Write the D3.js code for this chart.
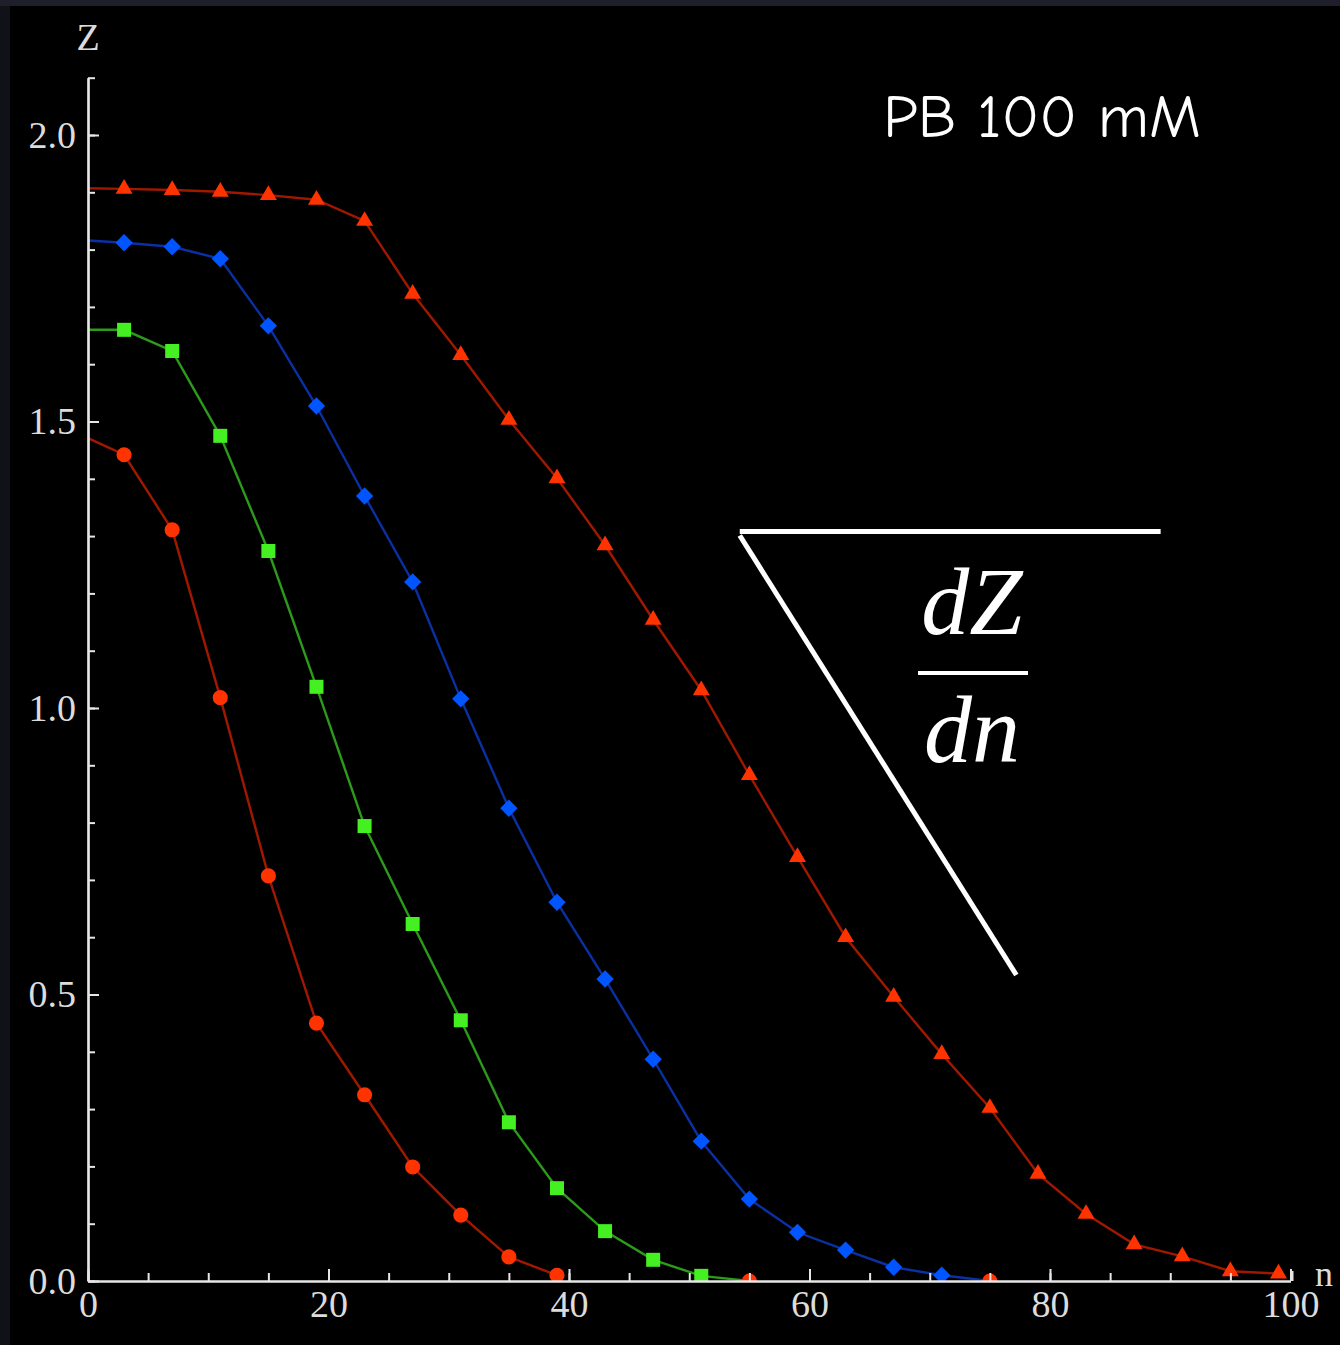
<!DOCTYPE html>
<html>
<head>
<meta charset="utf-8">
<script src="https://cdn.jsdelivr.net/npm/d3@7"></script>
<style>
  html, body { margin: 0; padding: 0; background: #000; }
  svg { display: block; }
</style>
</head>
<body>
<div id="chart"></div>
<script>
// marker positions along n (every 4th point gets a marker)
const nMarks = [3, 7, 11, 15, 19, 23, 27, 31, 35, 39, 43, 47, 51, 55, 59, 63, 67, 71, 75, 79, 83, 87, 91, 95, 99]

// values
const triStart = 1.907
const triZ = [1.906, 1.904, 1.901, 1.895, 1.887, 1.850, 1.723, 1.616, 1.503, 1.401, 1.284, 1.154, 1.031,
  0.883, 0.740, 0.600, 0.496, 0.396, 0.302, 0.187, 0.117, 0.064, 0.043, 0.017, 0.013]

const diaStart = 1.816
const diaZ = [1.812, 1.805, 1.784, 1.667, 1.527, 1.370, 1.220, 1.016, 0.825, 0.661, 0.527, 0.387, 0.244,
  0.143, 0.085, 0.054, 0.024, 0.010]
const diaEnd = [75, 0]

const sqStart = 1.660
const sqZ = [1.660, 1.623, 1.475, 1.274, 1.037, 0.794, 0.623, 0.455, 0.277, 0.162, 0.087, 0.037, 0.009]
const sqEnd = [55, 0]

const circStart = 1.471
const circZ = [1.442, 1.311, 1.018, 0.707, 0.450, 0.325, 0.199, 0.115, 0.042, 0.010]

// stray circles sitting on the axis
const axisCircN = [55, 75]

const xMajor = [0, 20, 40, 60, 80, 100]
const yMajor = [0, 0.5, 1.0, 1.5, 2.0]

const width = 1340
const height = 1345

const x = d3.scaleLinear().domain([0, 100]).range([88, 1290.5])
const y = d3.scaleLinear().domain([0, 2.1]).range([1281, 77.7])

const svg = d3.select('#chart').append('svg')
  .attr('width', width)
  .attr('height', height)

svg.append('rect').attr('width', width).attr('height', height).attr('fill', '#000')
// dark frame at the edges of the screenshot
svg.append('rect').attr('width', 10).attr('height', height).attr('fill', '#101217')
svg.append('rect').attr('width', width).attr('height', 6).attr('fill', '#1e1f2a')

svg.append('clipPath').attr('id', 'plot')
  .append('rect')
  .attr('x', x(0)).attr('y', y(2.1))
  .attr('width', x(100) - x(0) + 10)
  .attr('height', y(0) - y(2.1))

function build (start, vals, end) {
  const pts = [[0, start]].concat(vals.map((v, i) => [nMarks[i], v]))
  if (end) pts.push(end)
  return pts
}

const series = [
  { pts: build(circStart, circZ), marks: circZ.map((v, i) => [nMarks[i], v]), line: '#a01800', fill: '#ff3300', shape: 'circle' },
  { pts: build(sqStart, sqZ, sqEnd), marks: sqZ.map((v, i) => [nMarks[i], v]), line: '#2c9a1a', fill: '#44f022', shape: 'square' },
  { pts: build(diaStart, diaZ, diaEnd), marks: diaZ.map((v, i) => [nMarks[i], v]), line: '#0a30a4', fill: '#0055ff', shape: 'diamond' },
  { pts: build(triStart, triZ), marks: triZ.map((v, i) => [nMarks[i], v]), line: '#a01800', fill: '#ff3300', shape: 'triangle' }
]

const symbols = {
  circle: d3.symbol(d3.symbolCircle, 180)(),
  square: d3.symbol(d3.symbolSquare, 196)(),
  diamond: d3.symbol(d3.symbolSquare, 150)(),
  triangle: d3.symbol(d3.symbolTriangle, 125)()
}

const line = d3.line().x(d => x(d[0])).y(d => y(d[1]))

const plot = svg.append('g').attr('clip-path', 'url(#plot)')

series.forEach(s => {
  plot.append('path')
    .datum(s.pts)
    .attr('d', line)
    .attr('fill', 'none')
    .attr('stroke', s.line)
    .attr('stroke-width', 2.4)
})

plot.selectAll('path.axis-circ')
  .data(axisCircN)
  .enter()
  .append('path')
  .attr('class', 'axis-circ')
  .attr('d', symbols.circle)
  .attr('fill', '#ff3300')
  .attr('transform', d => `translate(${x(d)},${y(0)})`)

series.forEach(s => {
  plot.selectAll(null)
    .data(s.marks)
    .enter()
    .append('path')
    .attr('d', symbols[s.shape])
    .attr('fill', s.fill)
    .attr('transform', d => `translate(${x(d[0])},${y(d[1])})` + (s.shape === 'diamond' ? ' rotate(45)' : ''))
})

// axes
const axisColor = '#e6e6e6'
const labelFont = '"Liberation Serif", "Times New Roman", serif'

const xMinor = svg.append('g')
  .attr('transform', `translate(0,${y(0)})`)
  .call(d3.axisBottom(x).tickValues(d3.range(0, 101, 5)).tickSize(-8).tickSizeOuter(0).tickFormat(''))
const xAxis = svg.append('g')
  .attr('transform', `translate(0,${y(0)})`)
  .call(d3.axisBottom(x).tickValues(xMajor).tickSize(-12).tickSizeOuter(0).tickPadding(9).tickFormat(d3.format('d')))

const yMinor = svg.append('g')
  .attr('transform', `translate(${x(0)},0)`)
  .call(d3.axisLeft(y).tickValues(d3.range(0, 22).map(i => i / 10)).tickSize(-7).tickSizeOuter(0).tickFormat(''))
const yAxis = svg.append('g')
  .attr('transform', `translate(${x(0)},0)`)
  .call(d3.axisLeft(y).tickValues(yMajor).tickSize(-11).tickSizeOuter(0).tickPadding(12).tickFormat(d3.format('.1f')))

;[xMinor, xAxis, yMinor, yAxis].forEach(g => {
  g.selectAll('.domain').attr('stroke', axisColor).attr('stroke-width', 2.2)
  g.selectAll('.tick line').attr('stroke', axisColor).attr('stroke-width', 2)
  g.selectAll('.tick text')
    .attr('fill', '#dcdcdc')
    .style('font-family', labelFont)
    .style('font-size', '38px')
})
// end tick at n = 100
svg.append('line')
  .attr('x1', x(100) + 2).attr('x2', x(100) + 2)
  .attr('y1', y(0)).attr('y2', y(0) - 10)
  .attr('stroke', axisColor).attr('stroke-width', 2)

svg.append('text')
  .attr('x', x(0)).attr('y', 50)
  .attr('text-anchor', 'middle')
  .attr('fill', '#dcdcdc')
  .style('font-family', labelFont)
  .style('font-size', '38px')
  .text('Z')

svg.append('text')
  .attr('x', 1315).attr('y', 1286)
  .attr('fill', '#dcdcdc')
  .style('font-family', labelFont)
  .style('font-size', '36px')
  .text('n')

// PB label
svg.append('text')
  .attr('x', 883).attr('y', 137)
  .attr('fill', '#fff')
  .attr('textLength', 318)
  .attr('lengthAdjust', 'spacingAndGlyphs')
  .style('font-family', '"Comic Sans MS", "Comic Neue", "Noto Sans", sans-serif')
  .style('font-size', '60px')
  .text('PB 100 mM')

// slope triangle, in data units
const slopeTop = 1.308
const slopeLeft = 54.2
const slopeRight = 89.2
const slopeEnd = [77.2, 0.534]

svg.append('line')
  .attr('x1', x(slopeLeft)).attr('x2', x(slopeRight))
  .attr('y1', y(slopeTop)).attr('y2', y(slopeTop))
  .attr('stroke', '#fff').attr('stroke-width', 5)
svg.append('line')
  .attr('x1', x(slopeLeft)).attr('y1', y(slopeTop) + 4)
  .attr('x2', x(slopeEnd[0])).attr('y2', y(slopeEnd[1]))
  .attr('stroke', '#fff').attr('stroke-width', 5)

const frac = svg.append('g').attr('fill', '#fff')
  .style('font-family', '"Liberation Serif", "DejaVu Serif", serif')
  .style('font-style', 'italic')
  .style('font-size', '96px')
frac.append('text').attr('x', 972).attr('y', 634).attr('text-anchor', 'middle').text('dZ')
frac.append('text').attr('x', 972).attr('y', 762).attr('text-anchor', 'middle').text('dn')
svg.append('line')
  .attr('x1', 918).attr('x2', 1028)
  .attr('y1', 673).attr('y2', 673)
  .attr('stroke', '#fff').attr('stroke-width', 4)
</script>
</body>
</html>
